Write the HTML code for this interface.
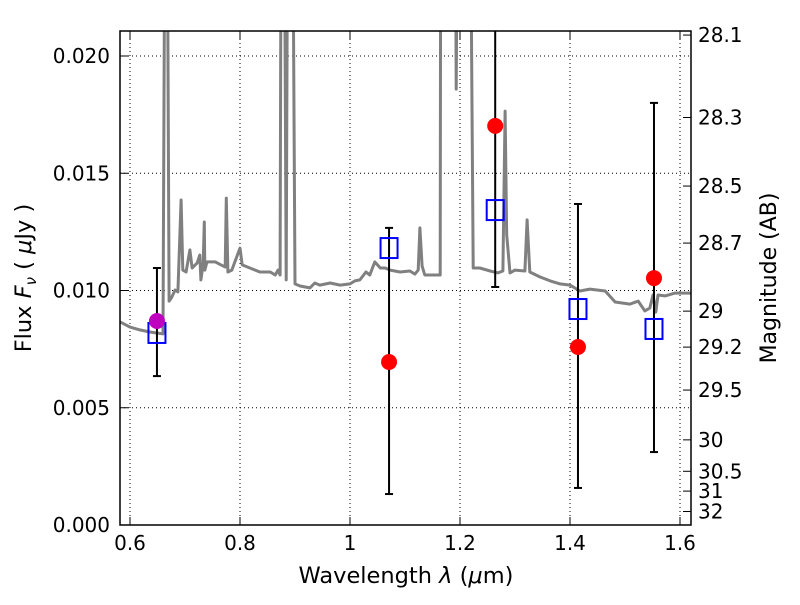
<!DOCTYPE html>
<html><head><meta charset="utf-8"><style>
body{margin:0;background:#fff;}
svg{font-family:"DejaVu Sans","Liberation Sans",sans-serif;}
</style></head><body>
<svg id="chart" width="800" height="600" viewBox="0 0 800 600" xmlns="http://www.w3.org/2000/svg">
<rect width="800" height="600" fill="#fff"/>
<defs><clipPath id="pc"><rect x="120" y="31" width="571" height="494"/></clipPath></defs>
<g id="grid"></g>
<g id="spec" clip-path="url(#pc)"></g>
<g id="marks" clip-path="url(#pc)"></g>
<rect x="120" y="31" width="571" height="494" fill="none" stroke="#000" stroke-width="1.5"/>
<g id="axes"></g>
<text x="406" y="583" text-anchor="middle" font-size="22.5">Wavelength  <tspan font-style="italic">λ</tspan> (<tspan font-style="italic">μ</tspan>m)</text>
<text transform="translate(31,278) rotate(-90)" text-anchor="middle" font-size="22.5">Flux  <tspan font-style="italic">F</tspan><tspan font-style="italic" font-size="15" dy="5">ν</tspan><tspan dy="-5">   (  </tspan><tspan font-style="italic">μ</tspan>Jy )</text>
<text transform="translate(776,278) rotate(-90)" text-anchor="middle" font-size="22">Magnitude (AB)</text>
</svg>
<script>
const specLam=[0.582,0.600,0.618,0.636,0.660,0.664,0.667,0.671,0.676,0.682,0.687,0.693,0.696,0.702,0.709,0.713,0.722,0.727,0.729,0.733,0.735,0.736,0.740,0.755,0.773,0.775,0.778,0.785,0.800,0.804,0.818,0.836,0.855,0.864,0.869,0.873,0.875,0.880,0.884,0.887,0.895,0.900,0.909,0.927,0.936,0.945,0.964,0.982,1.000,1.009,1.018,1.029,1.036,1.045,1.055,1.064,1.073,1.091,1.109,1.118,1.124,1.127,1.131,1.136,1.164,1.165,1.191,1.193,1.196,1.218,1.224,1.236,1.255,1.269,1.278,1.282,1.285,1.291,1.300,1.318,1.322,1.327,1.345,1.364,1.382,1.400,1.418,1.436,1.464,1.482,1.509,1.524,1.536,1.545,1.551,1.556,1.560,1.573,1.591,1.620];
const specFlux=[0.00866,0.00844,0.00832,0.00823,0.00815,0.03,0.03,0.00955,0.00972,0.01002,0.00994,0.01386,0.01087,0.01079,0.01173,0.01096,0.01117,0.01151,0.01045,0.01117,0.01292,0.01087,0.01122,0.01122,0.01100,0.01394,0.01079,0.01087,0.01181,0.01109,0.01096,0.01079,0.01079,0.01066,0.01087,0.01066,0.03,0.03,0.01045,0.03,0.03,0.01028,0.01019,0.01011,0.01032,0.01023,0.01032,0.01023,0.01028,0.01041,0.01045,0.01079,0.01066,0.01122,0.01096,0.01096,0.01087,0.01079,0.01083,0.01070,0.01087,0.01267,0.01104,0.01066,0.01066,0.03,0.03,0.01859,0.03,0.03,0.01096,0.01096,0.01083,0.01075,0.01083,0.01765,0.01237,0.01075,0.01087,0.01083,0.01301,0.01079,0.01058,0.01041,0.01028,0.01023,0.00998,0.01006,0.00998,0.00951,0.00942,0.00955,0.00913,0.00925,0.00981,0.00908,0.00981,0.00977,0.00989,0.00989];
const obsLam=[1.071,1.264,1.4145,1.5527];
const obsFlux=[0.00695,0.01702,0.00759,0.01053];
const obsErrLow=[0.00132,0.01015,0.00158,0.00311];
const obsErrHigh=[0.01267,0.024,0.01369,0.018];
const magLam=[0.649];
const magFlux=[0.0087];
const magErrLow=[0.00635];
const magErrHigh=[0.01096];
const modelLam=[0.649,1.071,1.264,1.4145,1.5527];
const modelFlux=[0.00819,0.01181,0.01343,0.00921,0.00836];
const xTicks=[0.6,0.8,1.0,1.2,1.4,1.6];
const xTickLabels=["0.6","0.8","1","1.2","1.4","1.6"];
const yTicks=[0,0.005,0.010,0.015,0.020];
const yTickLabels=["0.000","0.005","0.010","0.015","0.020"];
const magTicks=[28.1,28.3,28.5,28.7,29,29.2,29.5,30,30.5,31,32];
const magTickLabels=["28.1","28.3","28.5","28.7","29","29.2","29.5","30","30.5","31","32"];

const NS="http://www.w3.org/2000/svg";
const X=l=>130+(l-0.6)*550;
const Y=f=>525-f*23450;
function mk(parent,tag,attrs){const e=document.createElementNS(NS,tag);for(const k in attrs)e.setAttribute(k,attrs[k]);document.getElementById(parent).appendChild(e);return e;}

xTicks.forEach((t,i)=>{
  const x=X(t);
  const g=mk('grid','line',{x1:x,x2:x,y1:31,y2:525,stroke:'#000','stroke-width':1,'stroke-dasharray':'1,3'});
  
  
  mk('axes','line',{x1:x,x2:x,y1:525,y2:517,stroke:'#000'});
  mk('axes','line',{x1:x,x2:x,y1:31,y2:39,stroke:'#000'});
  const tx=mk('axes','text',{x:x,y:550,'text-anchor':'middle','font-size':20});
  tx.textContent=xTickLabels[i];
  
  
});
yTicks.forEach((t,i)=>{
  const y=Y(t);
  const g=mk('grid','line',{x1:120,x2:691,y1:y,y2:y,stroke:'#000','stroke-width':1,'stroke-dasharray':'1,3'});
  
  
  mk('axes','line',{x1:120,x2:128,y1:y,y2:y,stroke:'#000'});
  const tx=mk('axes','text',{x:110,y:y+7,'text-anchor':'end','font-size':20});
  tx.textContent=yTickLabels[i];
  
  
});
magTicks.forEach((m,i)=>{
  const y=Y(Math.pow(10,(23.9-m)/2.5));
  mk('axes','line',{x1:683,x2:691,y1:y,y2:y,stroke:'#000'});
  const tx=mk('axes','text',{x:698,y:y+7,'text-anchor':'start','font-size':20});
  tx.textContent=magTickLabels[i];
  
  
});

const pts=specLam.map((l,i)=>X(l).toFixed(1)+','+Y(specFlux[i]).toFixed(1)).join(' ');
const sp=mk('spec','polyline',{points:pts,fill:'none',stroke:'#808080','stroke-width':3,'stroke-linejoin':'round'});



function errBar(l,lo,hi){
  const x=X(l);
  const e=mk('marks','line',{x1:x,x2:x,y1:Y(lo),y2:Y(hi),stroke:'#000','stroke-width':2});
  
  
  mk('marks','line',{x1:x-4,x2:x+4,y1:Y(lo),y2:Y(lo),stroke:'#000','stroke-width':2});
  mk('marks','line',{x1:x-4,x2:x+4,y1:Y(hi),y2:Y(hi),stroke:'#000','stroke-width':2});
}
obsLam.forEach((l,i)=>errBar(l,obsErrLow[i],obsErrHigh[i]));
magLam.forEach((l,i)=>errBar(l,magErrLow[i],magErrHigh[i]));
modelLam.forEach((l,i)=>{
  const r=mk('marks','rect',{x:X(l)-8.5,y:Y(modelFlux[i])-10,width:17,height:20,fill:'none',stroke:'#0000ff','stroke-width':2});
  
  
});
obsLam.forEach((l,i)=>{
  const c=mk('marks','circle',{cx:X(l),cy:Y(obsFlux[i]),r:8,fill:'#ff0000'});
  
  
});
magLam.forEach((l,i)=>{
  const c=mk('marks','circle',{cx:X(l),cy:Y(magFlux[i]),r:8,fill:'#bf00bf'});
  
  
});
</script>
</body></html>
